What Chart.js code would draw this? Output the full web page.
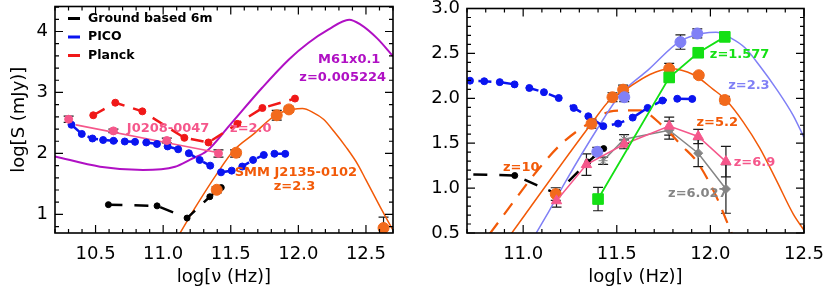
<!DOCTYPE html>
<html>
<head>
<meta charset="utf-8">
<script src="https://cdn.jsdelivr.net/npm/chart.js@4.4.1/dist/chart.umd.min.js"></script>
<style>
  html, body { margin: 0; padding: 0; background: #fff; }
  .panel { position: absolute; top: 0; height: 298px; }
</style>
</head>
<body>
<div class="panel" style="left:0;width:410px"><canvas id="leftChart"></canvas></div>
<div class="panel" style="left:410px;width:419px"><canvas id="rightChart"></canvas></div>
<script>
// ---- data: log10 frequency (Hz) and log10 flux (mJy) ----
const leftXTicks = [10.5, 11.0, 11.5, 12.0, 12.5]
const leftYTicks = [1, 2, 3, 4]
const rightXTicks = [11.0, 11.5, 12.0, 12.5]
const rightYTicks = [0.5, 1.0, 1.5, 2.0, 2.5, 3.0]

// sensitivities
const groundNu = [10.595, 10.955, 11.177, 11.345, 11.43]
const groundS = [1.16, 1.14, 0.94, 1.29, 1.44]
const picoNu = [10.322, 10.398, 10.477, 10.556, 10.633, 10.716, 10.792, 10.875, 10.954, 11.033, 11.111,
  11.19, 11.27, 11.348, 11.428, 11.507, 11.585, 11.665, 11.744, 11.823, 11.903]
const picoS = [2.47, 2.32, 2.245, 2.22, 2.207, 2.196, 2.19, 2.18, 2.155, 2.115, 2.068,
  2.003, 1.893, 1.80, 1.69, 1.718, 1.785, 1.893, 1.975, 1.995, 1.993]
const planckNu = [10.483, 10.646, 10.846, 11.157, 11.335, 11.549, 11.734, 11.975]
const planckS = [2.626, 2.832, 2.69, 2.256, 2.18, 2.485, 2.745, 2.90]

// J0208-0047, z=2.0
const j0208Nu = [10.301, 10.632, 11.027, 11.409, 11.532]
const j0208S = [2.561, 2.37, 2.212, 2.0, 2.0]
const j0208Err = [0.05, 0.03, 0.04, 0.06, 0.06]
const j0208FitNu = [10.355, 11.41]
const j0208FitS = [2.468, 2.01]

// SMM J2135-0102, z=2.3
const smmNu = [11.396, 11.54, 11.84, 11.93, 12.63]
const smmS = [1.404, 2.012, 2.626, 2.722, 0.777]
const smmErr = [0.05, 0.05, 0.08, 0.05, 0.18]
const smmFitNu = [11.07, 11.125, 11.224, 11.397, 11.52, 11.668, 11.84, 11.964, 12.03, 12.11, 12.186,
  12.264, 12.354, 12.442, 12.5, 12.606, 12.7]
const smmFitS = [0.5, 0.695, 1.065, 1.664, 2.044, 2.317, 2.64, 2.724, 2.735, 2.67, 2.56,
  2.36, 2.10, 1.81, 1.565, 1.12, 0.74]

// M61 x 0.1, z=0.005224
const m61Nu = [10.2, 10.533, 10.851, 11.088, 11.2, 11.325, 11.488, 11.732, 11.932, 12.073, 12.221,
  12.376, 12.458, 12.583, 12.7]
const m61S = [1.951, 1.783, 1.729, 1.783, 1.90, 2.044, 2.452, 3.077, 3.545, 3.811, 4.029,
  4.193, 4.116, 3.887, 3.594]

// right panel sources
const z1577Nu = [11.40, 11.78, 11.935, 12.077]
const z1577S = [0.878, 2.232, 2.507, 2.684]
const z1577Err = [0.13, 0.05, 0.05, 0.05]

const z52Nu = [11.174, 11.365, 11.477, 11.534, 11.78, 11.938, 12.077]
const z52S = [0.934, 1.717, 2.012, 2.096, 2.33, 2.257, 1.981]
const z52Err = [0.07, 0.05, 0.05, 0.05, 0.06, 0.03, 0.04]
const z52FitNu = [10.937, 11.365, 11.472, 11.534, 11.677, 11.783, 11.908, 12.015, 12.086, 12.175,
  12.264, 12.354, 12.442, 12.5]
const z52FitS = [0.493, 1.72, 2.0, 2.08, 2.265, 2.328, 2.265, 2.1, 1.976, 1.738,
  1.445, 1.08, 0.713, 0.53]

const z69Nu = [11.178, 11.338, 11.539, 11.78, 11.935, 12.083]
const z69S = [0.859, 1.262, 1.488, 1.69, 1.575, 1.295]
const z69Err = [0.07, 0.12, 0.05, 0.10, 0.08, 0.17]

const z6027Nu = [11.427, 11.539, 11.78, 11.935, 12.083]
const z6027S = [1.305, 1.545, 1.645, 1.389, 0.99]
const z6027Err = [0.04, 0.05, 0.10, 0.15, 0.27]

const z10FitNu = [10.821, 11.089, 11.201, 11.361, 11.484, 11.623, 11.746, 11.848, 11.928, 12.024, 12.115]
const z10FitS = [0.49, 1.229, 1.487, 1.735, 1.861, 1.866, 1.69, 1.47, 1.295, 0.94, 0.49]

// ---- styling ----
const FONT = "'DejaVu Sans', sans-serif"
const C = {
  blue: "#0a14f0", red: "#f01818", magenta: "#b010c4", orange: "#f25a08", orangeDot: "#f26a1c",
  pink: "#f5578b", lavender: "#8080f6", green: "#14e014", gray: "#858585", black: "#000"
}
Chart.defaults.font.family = FONT
Chart.defaults.color = "#000"

const pts = (xs, ys) => xs.map((x, i) => ({ x, y: ys[i] }))

function markers(label, xs, ys, color, style, radius, errs) {
  return { label, data: pts(xs, ys), showLine: false, pointStyle: style, pointRadius: radius,
    backgroundColor: color, borderColor: color, borderWidth: 1, yErr: errs }
}
function curve(label, xs, ys, color, width, dash) {
  return { label, data: pts(xs, ys), showLine: true, pointRadius: 0, borderColor: color,
    borderWidth: width, borderDash: dash || [], cubicInterpolationMode: "monotone", fill: false }
}
function joined(label, xs, ys, color, width, dash, radius, style, errs) {
  return { label, data: pts(xs, ys), showLine: true, borderColor: color, borderWidth: width,
    borderDash: dash || [], pointStyle: style || "circle", pointRadius: radius,
    pointBackgroundColor: color, pointBorderColor: color, pointBorderWidth: 1, yErr: errs }
}

// inward ticks on all four sides plus the box
const frameTicks = {
  id: "frameTicks",
  afterDraw(chart, args, o) {
    const { ctx, chartArea: a, scales: { x, y } } = chart
    ctx.save()
    ctx.strokeStyle = "#000"
    ctx.lineWidth = 1.2
    const isMajor = (v, list) => list.some((m) => Math.abs(m - v) < 1e-6)
    for (let k = Math.ceil(x.min / o.xMinor - 1e-6); k * o.xMinor <= x.max + 1e-6; k++) {
      const v = k * o.xMinor
      const len = isMajor(v, o.xMajor) ? 8 : 4
      const px = x.getPixelForValue(v)
      ctx.beginPath()
      ctx.moveTo(px, a.bottom); ctx.lineTo(px, a.bottom - len)
      ctx.moveTo(px, a.top); ctx.lineTo(px, a.top + len)
      ctx.stroke()
    }
    for (let k = Math.ceil(y.min / o.yMinor - 1e-6); k * o.yMinor <= y.max + 1e-6; k++) {
      const v = k * o.yMinor
      const len = isMajor(v, o.yMajor) ? 8 : 4
      const py = y.getPixelForValue(v)
      ctx.beginPath()
      ctx.moveTo(a.left, py); ctx.lineTo(a.left + len, py)
      ctx.moveTo(a.right, py); ctx.lineTo(a.right - len, py)
      ctx.stroke()
    }
    ctx.lineWidth = 1.6
    ctx.strokeRect(a.left, a.top, a.width, a.height)
    ctx.restore()
  }
}

const errorBars = {
  id: "errorBars",
  beforeDatasetsDraw(chart) {
    const { ctx, chartArea: a, scales: { x, y } } = chart
    ctx.save()
    ctx.beginPath()
    ctx.rect(a.left, a.top, a.width, a.height)
    ctx.clip()
    ctx.strokeStyle = "#1a1a1a"
    ctx.lineWidth = 1.2
    const cap = 5
    chart.data.datasets.forEach((ds) => {
      if (!ds.yErr) return
      ds.data.forEach((p, i) => {
        const e = ds.yErr[i]
        if (!e) return
        const px = x.getPixelForValue(p.x)
        const top = y.getPixelForValue(p.y + e)
        const bot = y.getPixelForValue(p.y - e)
        ctx.beginPath()
        ctx.moveTo(px, top); ctx.lineTo(px, bot)
        ctx.moveTo(px - cap, top); ctx.lineTo(px + cap, top)
        ctx.moveTo(px - cap, bot); ctx.lineTo(px + cap, bot)
        ctx.stroke()
      })
    })
    ctx.restore()
  }
}

const notes = {
  id: "notes",
  afterDatasetsDraw(chart, args, o) {
    const { ctx, scales: { x, y }, chartArea: a } = chart
    ctx.save()
    ctx.textBaseline = "middle"
    ctx.font = "bold 13px " + FONT
    ;(o.items || []).forEach((n) => {
      ctx.fillStyle = n.color
      ctx.textAlign = n.align || "left"
      ctx.fillText(n.text, x.getPixelForValue(n.x), y.getPixelForValue(n.y))
    })
    ;(o.legend || []).forEach((l, i) => {
      const ly = a.top + 12 + i * 18.5
      ctx.strokeStyle = l.color
      ctx.lineWidth = 3
      ctx.beginPath()
      ctx.moveTo(a.left + 13, ly); ctx.lineTo(a.left + 25, ly)
      ctx.stroke()
      ctx.fillStyle = "#000"
      ctx.textAlign = "left"
      ctx.font = "bold 12.5px " + FONT
      ctx.fillText(l.label, a.left + 33, ly)
    })
    ctx.restore()
  }
}

function axes(xr, yr, xTicks, yTicks, yWidth, yFmt, yTitle) {
  const tickFont = { family: FONT, size: 18 }
  return {
    x: {
      type: "linear", min: xr[0], max: xr[1],
      grid: { display: false, drawTicks: false }, border: { display: false },
      afterBuildTicks: (s) => { s.ticks = xTicks.map((v) => ({ value: v })) },
      afterFit: (s) => { s.height = 65; s.paddingLeft = 0; s.paddingRight = 0 },
      ticks: { font: tickFont, color: "#000", padding: 11, maxRotation: 0, autoSkip: false,
        callback: (v) => v.toFixed(1) },
      title: { display: true, text: "log[\u03bd (Hz)]", font: tickFont, color: "#000",
        padding: { top: 0, bottom: 10 } }
    },
    y: {
      type: "linear", min: yr[0], max: yr[1],
      grid: { display: false, drawTicks: false }, border: { display: false },
      afterBuildTicks: (s) => { s.ticks = yTicks.map((v) => ({ value: v })) },
      afterFit: (s) => { s.width = yWidth; s.paddingTop = 0; s.paddingBottom = 0 },
      ticks: { font: tickFont, color: "#000", padding: 7, autoSkip: false, callback: yFmt },
      title: { display: !!yTitle, text: yTitle || "", font: tickFont, color: "#000",
        padding: { top: 9, bottom: 0 } }
    }
  }
}

const baseOptions = {
  animation: false,
  responsive: true,
  maintainAspectRatio: false,
  events: []
}

new Chart(document.getElementById("leftChart"), {
  type: "scatter",
  data: {
    datasets: [
      markers("SMM J2135-0102", smmNu, smmS, C.orangeDot, "circle", 5.5, smmErr),
      markers("J0208-0047", j0208Nu, j0208S, C.pink, "circle", 4, j0208Err),
      joined("Ground based 6m", groundNu, groundS, C.black, 2.5, [14, 12], 3),
      joined("PICO", picoNu, picoS, C.blue, 2.5, [11, 9], 3.5),
      joined("Planck", planckNu, planckS, C.red, 2.5, [13, 9], 3.5),
      curve("J0208 fit", j0208FitNu, j0208FitS, C.pink, 1.6),
      curve("SMM fit", smmFitNu, smmFitS, C.orange, 1.5),
      curve("M61", m61Nu, m61S, C.magenta, 2)
    ]
  },
  options: {
    ...baseOptions,
    layout: { padding: { top: 5, right: 17, left: 0, bottom: 0 } },
    scales: axes([10.2, 12.7], [0.695, 4.41], leftXTicks, leftYTicks, 55, (v) => String(v), "log[S (mJy)]"),
    plugins: {
      legend: { display: false },
      tooltip: { enabled: false },
      frameTicks: { xMajor: leftXTicks, xMinor: 0.1, yMajor: leftYTicks, yMinor: 0.2 },
      notes: {
        items: [
          { text: "J0208-0047", x: 10.731, y: 2.403, color: C.pink },
          { text: "z=2.0", x: 11.495, y: 2.403, color: C.pink },
          { text: "M61x0.1", x: 12.376, y: 3.54, color: C.magenta, align: "center" },
          { text: "z=0.005224", x: 12.328, y: 3.251, color: C.magenta, align: "center" },
          { text: "SMM J2135-0102", x: 11.982, y: 1.68, color: C.orange, align: "center" },
          { text: "z=2.3", x: 11.971, y: 1.457, color: C.orange, align: "center" }
        ],
        legend: [
          { label: "Ground based 6m", color: C.black },
          { label: "PICO", color: C.blue },
          { label: "Planck", color: C.red }
        ]
      }
    }
  },
  plugins: [errorBars, notes, frameTicks]
})

new Chart(document.getElementById("rightChart"), {
  type: "scatter",
  data: {
    datasets: [
      joined("z=1.577", z1577Nu, z1577S, C.green, 1.8, [], 7.5, "rect", z1577Err),
      joined("z=6.9", z69Nu, z69S, C.pink, 1.5, [], 6, "triangle", z69Err),
      joined("z=6.027", z6027Nu, z6027S, C.gray, 1.5, [], 4.5,
        ["star", "star", "rectRot", "rectRot", "rectRot"], z6027Err),
      markers("z=2.3", smmNu, smmS, C.lavender, "circle", 5.5, smmErr),
      markers("z=5.2", z52Nu, z52S, C.orangeDot, "circle", 5.5, z52Err),
      joined("Ground based 6m", groundNu, groundS, C.black, 2.5, [14, 12], 3),
      joined("PICO", picoNu, picoS, C.blue, 2.5, [13, 11], 3.5),
      curve("z=5.2 fit", z52FitNu, z52FitS, C.orange, 1.5),
      curve("z=2.3 fit", smmFitNu, smmFitS, C.lavender, 1.5),
      curve("z=10 fit", z10FitNu, z10FitS, C.orange, 2.2, [14, 10])
    ]
  },
  options: {
    ...baseOptions,
    layout: { padding: { top: 5, right: 25, left: 0, bottom: 0 } },
    scales: axes([10.7, 12.5], [0.5, 3.0], rightXTicks, rightYTicks, 57, (v) => v.toFixed(1)),
    plugins: {
      legend: { display: false },
      tooltip: { enabled: false },
      frameTicks: { xMajor: rightXTicks, xMinor: 0.1, yMajor: rightYTicks, yMinor: 0.1 },
      notes: {
        items: [
          { text: "z=1.577", x: 11.997, y: 2.481, color: C.green },
          { text: "z=2.3", x: 12.095, y: 2.14, color: C.lavender },
          { text: "z=5.2", x: 11.926, y: 1.73, color: C.orange },
          { text: "z=6.9", x: 12.125, y: 1.28, color: C.pink },
          { text: "z=6.027", x: 11.774, y: 0.933, color: C.gray },
          { text: "z=10", x: 10.892, y: 1.225, color: C.orange }
        ]
      }
    }
  },
  plugins: [errorBars, notes, frameTicks]
})
</script>
</body>
</html>
